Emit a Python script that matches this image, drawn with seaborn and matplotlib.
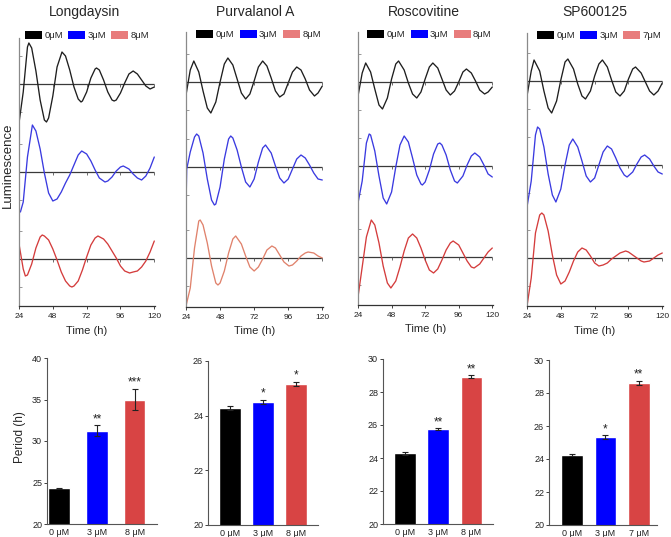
import matplotlib
matplotlib.use("Agg")
import matplotlib.pyplot as plt
from matplotlib.patches import Patch
import pandas as pd
import seaborn as sns

sns.set_style("ticks")
plt.rcParams['font.family'] = ['Liberation Sans', 'DejaVu Sans']

# ---------------- data ----------------
drugs = ["Longdaysin", "Purvalanol A", "Roscovitine", "SP600125"]
legend_doses = [["0μM", "3μM", "8μM"], ["0μM", "3μM", "8μM"],
                ["0μM", "3μM", "8μM"], ["0μM", "3μM", "7μM"]]
bar_doses = [["0 μM", "3 μM", "8 μM"], ["0 μM", "3 μM", "8 μM"],
             ["0 μM", "3 μM", "8 μM"], ["0 μM", "3 μM", "7 μM"]]

# detrended luminescence traces: (time h, signal a.u.)
longdaysin_0 = [(24, -39), (27, -8), (30, 37), (31, 41), (33, 36), (36, 13), (39, -16), (42, -36),
                (43.5, -38), (45, -34), (48, -12), (51, 17), (54.5, 32), (57, 28), (60, 14),
                (63, -3), (66, -15), (68, -18), (69, -17), (72, -8), (75, 6), (78, 15), (79, 16),
                (81, 14), (84, 4), (87, -8), (90, -16), (91.5, -17), (93, -16), (96, -9), (99, 1),
                (102, 10), (105, 13), (108, 10), (111, 4), (114, -2), (117, -5), (120, -3)]
longdaysin_3 = [(25, -40), (27, -30), (30, 15), (33.5, 47), (36, 41), (39, 23), (42, -1), (45, -21),
                (48, -29), (51, -27), (54, -20), (57, -11), (60, -3), (63, 7), (66, 17), (68.5, 21),
                (72, 18), (75, 11), (78, 2), (81, -6), (85, -10), (87, -9), (90, -5), (93, 1),
                (96, 5), (98, 6), (102, 3), (105, -2), (108, -6), (111, -8), (114, -4), (117, 4),
                (120, 15)]
longdaysin_8 = [(24, 15), (27, -10), (28.5, -17), (30, -16), (33, -5), (36, 11), (39, 22), (40.5, 24),
                (42, 23), (45, 19), (48, 10), (51, -1), (54, -13), (57, -22), (60, -27), (61.5, -28),
                (63, -27), (66, -22), (69, -11), (72, 2), (75, 14), (78, 21), (80, 23), (84, 20),
                (87, 15), (90, 8), (93, 1), (96, -7), (99, -12), (102.5, -14), (105, -13),
                (108, -12), (111, -8), (114, -2), (117, 7), (120, 18)]

purvalanol_0 = [(24, -13), (27, 12), (29.5, 21), (33, 10), (36, -9), (39, -26), (41.5, -31), (45, -20),
                (48, 0), (51, 18), (53.5, 24), (57, 17), (60, 3), (63, -11), (66, -17), (69, -12),
                (72, 1), (75, 15), (78, 21), (81, 16), (84, 4), (87, -9), (90, -15), (93, -12),
                (96, -1), (99, 10), (102, 15), (105, 12), (108, 3), (111, -8), (114.5, -14),
                (117, -11), (120, -4)]
purvalanol_3 = [(24, -40), (24.5, -2), (27, 15), (30, 30), (31.5, 33), (33, 31), (36, 14), (39, -12),
                (42, -33), (44, -38), (45, -37), (48, -20), (51, 8), (54, 28), (55.5, 31), (57, 29),
                (60, 17), (63, 0), (66, -15), (69, -20), (72, -12), (75, 5), (78, 19), (80, 22),
                (84, 14), (87, 1), (90, -11), (93, -16), (96, -12), (99, -2), (102, 8), (105, 12),
                (108, 9), (111, 2), (114, -6), (117, -12), (120, -13)]
purvalanol_8 = [(24, -48), (27, -30), (30, 10), (33, 37), (34, 38), (36, 33), (39, 15), (42, -8),
                (45, -25), (46.5, -27), (48, -25), (51, -13), (54, 5), (57, 19), (59, 22), (63, 14),
                (66, 2), (69, -9), (72, -13), (75, -9), (78, -1), (81, 8), (84.5, 12), (87, 10),
                (90, 3), (93, -4), (96.5, -8), (99, -7), (102, -3), (105, 2), (108, 5), (110, 6),
                (114, 5), (117, 2), (120, 0)]

roscovitine_0 = [(24, -14), (27, 9), (29.5, 19), (33, 10), (36, -7), (39, -23), (41.5, -27),
                 (45, -16), (48, 3), (51, 18), (53, 21), (57, 12), (60, -1), (63, -12), (66, -16),
                 (69, -10), (72, 3), (75, 15), (77.5, 19), (81, 14), (84, 3), (87, -8), (90, -13),
                 (93, -9), (96, 0), (99, 10), (101.5, 13), (105, 9), (108, 1), (111, -8),
                 (114.5, -12), (117, -10), (120, -5)]
roscovitine_3 = [(24, -37), (27, -15), (30, 23), (32, 32), (33, 31), (36, 15), (39, -10), (42, -32),
                 (44.5, -38), (48, -26), (51, -1), (54, 21), (57, 30), (60, 24), (63, 8), (66, -9),
                 (69, -18), (70, -19), (72, -16), (75, -4), (78, 12), (81, 22), (82.5, 23), (84, 21),
                 (87, 11), (90, -4), (93, -15), (95, -17), (99, -10), (102, 1), (105, 10),
                 (107.5, 13), (111, 9), (114, 1), (117, -8), (120, -11)]
roscovitine_8 = [(24, -40), (27, -10), (30, 20), (33.5, 37), (36, 32), (39, 14), (42, -9), (45, -26),
                 (47.5, -31), (51, -24), (54, -10), (57, 6), (60, 19), (63, 23), (66, 19), (69, 9),
                 (72, -3), (75, -13), (78, -16), (81, -12), (84, -3), (87, 7), (90, 14), (92, 16),
                 (96, 12), (99, 4), (102, -4), (105, -10), (107, -11), (111, -7), (114, -1),
                 (117, 5), (120, 9)]

sp600125_0 = [(24, -15), (27, 10), (29, 21), (33, 10), (36, -10), (39, -27), (41.5, -32), (45, -20),
              (48, 1), (51, 19), (53, 22), (57, 12), (60, -3), (63, -15), (65.5, -18), (69, -10),
              (72, 5), (75, 17), (77.5, 21), (81, 14), (84, 1), (87, -11), (90, -15), (93, -10),
              (96, 2), (99, 12), (101, 14), (105, 8), (108, -1), (111, -10), (114, -14),
              (117, -10), (120, -2)]
sp600125_3 = [(24, -42), (27, -16), (30, 30), (31.5, 38), (33, 36), (36, 18), (39, -9), (42, -30),
              (44.5, -37), (48, -24), (51, 0), (54, 20), (56.5, 26), (60, 18), (63, 4), (66, -11),
              (69, -17), (72, -13), (75, 0), (78, 13), (81, 19), (84, 16), (87, 7), (90, -3),
              (93, -10), (95, -12), (99, -7), (102, 1), (105, 8), (107.5, 10), (111, 6),
              (114, -1), (117, -7), (120, -9)]
sp600125_7 = [(24, -48), (27, -20), (30, 25), (33, 43), (34.5, 45), (36, 43), (39, 27), (42, 3),
              (45, -17), (48, -26), (51, -23), (54, -14), (57, -3), (60, 6), (63, 10), (66, 8),
              (69, 2), (72, -5), (75, -8), (78, -7), (81, -5), (84, -1), (87, 2), (90, 5), (94, 7),
              (96, 6), (99, 3), (102, 0), (105, -3), (107, -4), (111, -3), (114, 0), (117, 3),
              (120, 5)]

traces = [[longdaysin_0, longdaysin_3, longdaysin_8],
          [purvalanol_0, purvalanol_3, purvalanol_8],
          [roscovitine_0, roscovitine_3, roscovitine_8],
          [sp600125_0, sp600125_3, sp600125_7]]

# period (h): mean and SEM
period_longdaysin = [24.28, 31.25, 35.0]
sem_longdaysin = [0.05, 0.65, 1.3]
period_purvalanol = [24.28, 24.51, 25.17]
sem_purvalanol = [0.06, 0.07, 0.07]
period_roscovitine = [24.28, 25.76, 28.93]
sem_roscovitine = [0.08, 0.06, 0.08]
period_sp600125 = [24.24, 25.33, 28.63]
sem_sp600125 = [0.04, 0.10, 0.12]
periods = [period_longdaysin, period_purvalanol, period_roscovitine, period_sp600125]
sems = [sem_longdaysin, sem_purvalanol, sem_roscovitine, sem_sp600125]
stars = [["", "**", "***"], ["", "*", "*"], ["", "**", "**"], ["", "*", "**"]]

bar_ylims = [(20, 40), (20, 26), (20, 30), (20, 30)]
bar_yticks = [[20, 25, 30, 35, 40], [20, 22, 24, 26], [20, 22, 24, 26, 28, 30],
              [20, 22, 24, 26, 28, 30]]

# ---------------- styling / layout ----------------
W, H = 671, 537
fig = plt.figure(figsize=(W / 100, H / 100), dpi=100)


def rect(x0, x1, ytop, ybot):
    return [x0 / W, 1 - ybot / H, (x1 - x0) / W, (ybot - ytop) / H]


trace_rects = [(19, 155, 38, 306), (186, 323, 32, 307), (358, 493, 32, 305), (527, 663, 33, 306)]
trace_offsets = [[222, 134, 47], [225, 140, 49], [223, 139, 48], [225, 141, 48]]
trace_colors = [["#1e1e1e", "#3a3ae0", "#d43c3c"], ["#1e1e1e", "#3a3ae0", "#e0826c"],
                ["#1e1e1e", "#3a3ae0", "#d43c3c"], ["#1e1e1e", "#3a3ae0", "#d43c3c"]]
legend_colors = ["#000000", "#0000ff", "#e87c7c"]
legend_x = [0.5, 0.53, 0.53, 0.53]
legend_y = [1.01, 0.99, 0.99, 0.99]
title_x = [85, 255, 424, 595]

bar_rects = [(47, 157, 358, 524), (208, 318, 361, 525), (383, 493, 359, 524), (549, 657, 360, 525)]
bar_xlims = [(-0.32, 2.59), (-0.66, 2.66), (-0.66, 2.65), (-0.70, 2.55)]
bar_widths = [0.57, 0.66, 0.65, 0.66]
bar_colors = ["#000000", "#0000ff", "#d84444"]

for i in range(4):
    # ----- luminescence traces -----
    x0, x1, yt, yb = trace_rects[i]
    ax = fig.add_axes(rect(x0, x1, yt, yb))
    frames = []
    for j in range(3):
        d = pd.DataFrame(traces[i][j], columns=["time", "value"])
        d["signal"] = d["value"] + trace_offsets[i][j]
        d["dose"] = legend_doses[i][j]
        frames.append(d)
    df = pd.concat(frames, ignore_index=True)
    sns.lineplot(data=df, x="time", y="signal", hue="dose",
                 palette=dict(zip(legend_doses[i], trace_colors[i])),
                 estimator=None, sort=False, linewidth=0.95, legend=False, ax=ax)
    for line in ax.get_lines():
        line.set_solid_joinstyle("round")
    ax.hlines(trace_offsets[i], 24, 120, color="#3a3a3a", linewidth=0.9, zorder=1)
    for off in trace_offsets[i]:
        ax.plot([48, 72, 96, 120], [off] * 4, linestyle="none", marker=3,
                markersize=2.2, color="#555555", markeredgewidth=0.6)
    ax.set_xlim(24, 120.5)
    ax.set_ylim(0, yb - yt)
    ax.set_xticks([24, 48, 72, 96, 120])
    ax.tick_params(axis="x", labelsize=6, length=2, width=0.6, pad=3, colors="#222222")
    yt_pos = []
    for off in trace_offsets[i]:
        yt_pos += [off - 28, off, off + 28]
    ax.set_yticks([p for p in yt_pos if 0 < p < yb - yt])
    ax.set_yticklabels([])
    ax.tick_params(axis="y", direction="in", length=2.5, width=0.6, colors="#888888")
    for s in ["top", "right"]:
        ax.spines[s].set_visible(False)
    ax.spines["left"].set_color("#8a8a8a")
    ax.spines["left"].set_linewidth(0.9)
    ax.spines["bottom"].set_color("#333333")
    ax.spines["bottom"].set_linewidth(0.9)
    ax.set_xlabel("Time (h)", fontsize=8, labelpad=4)
    ax.set_ylabel("")
    handles = [Patch(facecolor=c, edgecolor="none") for c in legend_colors]
    ax.legend(handles, legend_doses[i], loc="center", bbox_to_anchor=(legend_x[i], legend_y[i]),
              ncol=3, frameon=False, fontsize=6.8, handlelength=1.8, handleheight=0.9,
              columnspacing=0.55, handletextpad=0.25, borderaxespad=0, borderpad=0)
    fig.text(title_x[i] / W, 1 - 12 / H, drugs[i], ha="center", va="center", fontsize=10)

    # ----- period bars -----
    x0, x1, yt, yb = bar_rects[i]
    bx = fig.add_axes(rect(x0, x1, yt, yb))
    bdf = pd.DataFrame({"dose": bar_doses[i], "period": periods[i]})
    sns.barplot(data=bdf, x="dose", y="period", hue="dose",
                palette=dict(zip(bar_doses[i], bar_colors)), errorbar=None,
                width=bar_widths[i], saturation=1, legend=False, ax=bx)
    bx.errorbar([0, 1, 2], periods[i], yerr=sems[i], fmt="none", ecolor="#222222",
                elinewidth=0.8, capsize=2.5, capthick=0.8)
    for k in range(3):
        if stars[i][k]:
            bx.text(k, periods[i][k] + sems[i][k], stars[i][k], ha="center", va="bottom",
                    fontsize=8.5, color="#222222")
    bx.set_xlim(*bar_xlims[i])
    bx.set_ylim(*bar_ylims[i])
    bx.set_yticks(bar_yticks[i])
    bx.set_xlabel("")
    bx.set_ylabel("")
    bx.tick_params(axis="both", labelsize=6.5, length=2, width=0.6, pad=1.5, colors="#222222")
    bx.tick_params(axis="x", length=0, pad=3)
    for s in ["top", "right"]:
        bx.spines[s].set_visible(False)
    for s in ["left", "bottom"]:
        bx.spines[s].set_color("#555555")
        bx.spines[s].set_linewidth(0.8)

fig.text(8 / W, 1 - 165 / H, "Luminescence", rotation=90, ha="center", va="center", fontsize=9.5)
fig.text(20 / W, 1 - 437 / H, "Period (h)", rotation=90, ha="center", va="center", fontsize=8.5)

fig.savefig("out.png", dpi=100)
